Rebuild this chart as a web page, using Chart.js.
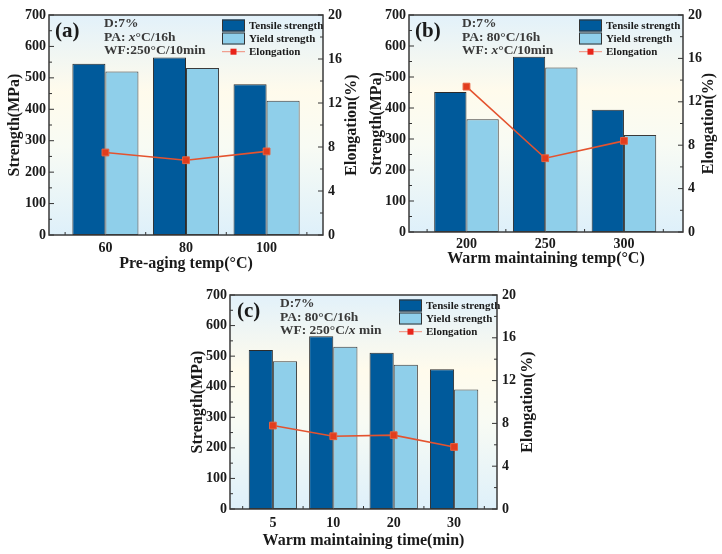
<!DOCTYPE html>
<html>
<head>
<meta charset="utf-8">
<script src="https://cdn.jsdelivr.net/npm/chart.js@4.4.1/dist/chart.umd.min.js"></script>
<style>
  html, body { margin: 0; padding: 0; background: #fff; }
  #wrap { position: relative; width: 722px; height: 554px; }
  canvas { position: absolute; }
</style>
</head>
<body>
<div id="wrap">
  <canvas id="chartA" width="370" height="277" style="left:0;top:0"></canvas>
  <canvas id="chartB" width="360" height="272" style="left:362px;top:0"></canvas>
  <canvas id="chartC" width="359" height="274" style="left:183px;top:280px"></canvas>
</div>
<script>
// (a) pre-aging temperature
const preAgingTemp = ['60', '80', '100'];
const tensileA = [545, 565, 480];
const yieldA = [520, 531, 427];
const elongA = [7.5, 6.8, 7.6];

// (b) warm maintaining temperature
const warmTemp = ['200', '250', '300'];
const tensileB = [452, 565, 394];
const yieldB = [364, 531, 313];
const elongB = [13.4, 6.8, 8.4];

// (c) warm maintaining time
const warmTime = ['5', '10', '20', '30'];
const tensileC = [520, 565, 511, 457];
const yieldC = [483, 531, 472, 391];
const elongC = [7.8, 6.8, 6.9, 5.8];

// axis ticks
const strengthTicks = [0, 100, 200, 300, 400, 500, 600, 700];
const elongTicks = [0, 4, 8, 12, 16, 20];

const TENSILE = '#005a9b';
const YIELD = '#8fcfea';
const LINE = '#e4532f';
const SERIF = '"Liberation Serif", "Times New Roman", serif';
const INK = '#1a1a1a';

function line(ctx, x1, y1, x2, y2) {
  ctx.beginPath();
  ctx.moveTo(x1, y1);
  ctx.lineTo(x2, y2);
  ctx.stroke();
}

// draws text pieces, some in italic
function drawRich(ctx, x, y, parts) {
  parts.forEach(p => {
    ctx.font = (p.i ? 'italic ' : '') + 'bold 13.5px ' + SERIF;
    ctx.fillText(p.t, x, y);
    x += ctx.measureText(p.t).width;
  });
}

function makeChart(id, cfg) {
  const cats = cfg.cats;
  const xy = arr => arr.map((v, i) => ({ x: i + 1, y: v }));

  const deco = {
    id: 'deco',
    beforeDraw(chart) {
      const { ctx, chartArea: a } = chart;
      const g = ctx.createLinearGradient(0, a.top, 0, a.bottom);
      g.addColorStop(0, '#e2f1fa');
      g.addColorStop(0.35, '#fffbec');
      g.addColorStop(0.6, '#f8fbf4');
      g.addColorStop(1, '#def0fa');
      ctx.save();
      ctx.fillStyle = g;
      ctx.fillRect(a.left, a.top, a.right - a.left, a.bottom - a.top);
      ctx.restore();
    },
    beforeDatasetsDraw(chart) {
      // inward ticks, Origin style
      const { ctx, chartArea: a, scales } = chart;
      ctx.save();
      ctx.strokeStyle = '#333';
      ctx.lineWidth = 1;
      strengthTicks.forEach((v, i) => {
        let py = scales.y.getPixelForValue(v);
        line(ctx, a.left, py, a.left + 5, py);
        if (i < strengthTicks.length - 1) {
          py = scales.y.getPixelForValue((v + strengthTicks[i + 1]) / 2);
          line(ctx, a.left, py, a.left + 3, py);
        }
      });
      elongTicks.forEach((v, i) => {
        let py = scales.y1.getPixelForValue(v);
        line(ctx, a.right - 5, py, a.right, py);
        if (i < elongTicks.length - 1) {
          py = scales.y1.getPixelForValue((v + elongTicks[i + 1]) / 2);
          line(ctx, a.right - 3, py, a.right, py);
        }
      });
      for (let i = 0; i <= cats.length; i++) {
        const px = scales.x.getPixelForValue(i + 0.5);
        line(ctx, px, a.bottom, px, a.bottom - 3);
      }
      ctx.restore();
    },
    afterDatasetsDraw(chart) {
      const { ctx, chartArea: a } = chart;
      ctx.save();
      // frame
      ctx.strokeStyle = '#3a3a3a';
      ctx.lineWidth = 1.5;
      ctx.strokeRect(a.left, a.top, a.right - a.left, a.bottom - a.top);

      // right axis title, reading bottom to top like the left one
      ctx.save();
      ctx.translate(a.right + cfg.y1TitleX, (a.top + a.bottom) / 2);
      ctx.rotate(-Math.PI / 2);
      ctx.font = 'bold 16px ' + SERIF;
      ctx.fillStyle = INK;
      ctx.textAlign = 'center';
      ctx.textBaseline = 'middle';
      ctx.fillText('Elongation(%)', 0, 0);
      ctx.restore();

      // panel label and notes
      ctx.fillStyle = INK;
      ctx.textBaseline = 'middle';
      ctx.font = 'bold 21px ' + SERIF;
      ctx.fillText(cfg.panel, a.left + cfg.labelX, a.top + 16.5);
      ctx.fillStyle = '#3a3a3a';
      const rows = [9, 22.5, 36];
      cfg.notes.forEach((parts, i) => drawRich(ctx, a.left + cfg.noteX, a.top + rows[i], parts));

      // legend
      const lx = a.right - cfg.legendOff;
      const bw = 23, bh = 12;
      ctx.lineWidth = 1;
      ctx.strokeStyle = '#333';
      [[TENSILE, 'Tensile strength', 10.5], [YIELD, 'Yield strength', 23.5]].forEach(([c, t, dy]) => {
        ctx.fillStyle = c;
        ctx.fillRect(lx, a.top + dy - bh / 2, bw, bh);
        ctx.strokeRect(lx + 0.5, a.top + dy - bh / 2 + 0.5, bw - 1, bh - 1);
        ctx.fillStyle = INK;
        ctx.font = 'bold 11px ' + SERIF;
        ctx.fillText(t, lx + bw + 4, a.top + dy + 0.5);
      });
      const ey = a.top + 36.7;
      ctx.strokeStyle = '#f08a78';
      line(ctx, lx, ey, lx + bw, ey);
      ctx.fillStyle = '#e8251b';
      ctx.fillRect(lx + bw / 2 - 3, ey - 3, 6, 6);
      ctx.fillStyle = INK;
      ctx.fillText('Elongation', lx + bw + 4, ey + 0.5);
      ctx.restore();
    }
  };

  const tickFont = { family: SERIF, size: 14, weight: 'bold' };
  const titleFont = { family: SERIF, size: 16, weight: 'bold' };
  const noGrid = { display: false, drawTicks: false, tickLength: 0 };

  return new Chart(document.getElementById(id), {
    type: 'bar',
    data: {
      datasets: [
        {
          type: 'line', label: 'Elongation', data: xy(cfg.elong), yAxisID: 'y1', order: 0,
          borderColor: LINE, borderWidth: 1.6, tension: 0,
          pointStyle: 'rect', pointRadius: 4.8,
          pointBackgroundColor: '#e23d1e', pointBorderColor: '#e8603e', pointBorderWidth: 1
        },
        {
          label: 'Tensile strength', data: xy(cfg.tensile), yAxisID: 'y', order: 1,
          backgroundColor: TENSILE, borderColor: '#2b2b2b', borderWidth: 1, borderSkipped: false
        },
        {
          label: 'Yield strength', data: xy(cfg.yieldS), yAxisID: 'y', order: 2,
          backgroundColor: YIELD, borderColor: '#3a3a3a', borderWidth: 1, borderSkipped: false
        }
      ]
    },
    options: {
      responsive: false,
      animation: false,
      devicePixelRatio: 1,
      layout: { padding: { top: 15, left: 0, right: 0, bottom: 0 } },
      categoryPercentage: cfg.catPct,
      barPercentage: 1,
      plugins: { legend: { display: false }, tooltip: { enabled: false } },
      scales: {
        x: {
          type: 'linear', min: cfg.xmin, max: cfg.xmax, offset: false,
          grid: noGrid, border: { display: false },
          afterBuildTicks: s => { s.ticks = cats.map((c, i) => ({ value: i + 1 })); },
          ticks: { callback: v => cats[Math.round(v) - 1], font: tickFont, color: INK, padding: cfg.xPad, maxRotation: 0, autoSkip: false },
          title: { display: true, text: cfg.xTitle, font: titleFont, color: INK, padding: { top: 0, bottom: 4 } },
          afterFit: s => { s.height = cfg.bottomH; }
        },
        y: {
          position: 'left', min: 0, max: 700,
          grid: noGrid, border: { display: false },
          afterBuildTicks: s => { s.ticks = strengthTicks.map(v => ({ value: v })); },
          ticks: { font: tickFont, color: INK, padding: 3 },
          title: { display: true, text: 'Strength(MPa)', font: titleFont, color: INK, padding: { top: 5, bottom: 0 } },
          afterFit: s => { s.width = cfg.leftW; }
        },
        y1: {
          position: 'right', min: 0, max: 20,
          grid: noGrid, border: { display: false },
          afterBuildTicks: s => { s.ticks = elongTicks.map(v => ({ value: v })); },
          ticks: { font: tickFont, color: INK, padding: 5 },
          title: { display: false },
          afterFit: s => { s.width = cfg.rightW; }
        }
      }
    },
    plugins: [deco]
  });
}

makeChart('chartA', {
  cats: preAgingTemp, tensile: tensileA, yieldS: yieldA, elong: elongA,
  xmin: 0.3, xmax: 3.7, catPct: 0.82, xPad: 5,
  leftW: 49, rightW: 47, bottomH: 42, y1TitleX: 29,
  xTitle: 'Pre-aging temp(°C)', panel: '(a)', labelX: 6, noteX: 55, legendOff: 101,
  notes: [
    [{ t: 'D:7%' }],
    [{ t: 'PA: ' }, { t: 'x', i: true }, { t: '°C/16h' }],
    [{ t: 'WF:250°C/10min' }]
  ]
});

makeChart('chartB', {
  cats: warmTemp, tensile: tensileB, yieldS: yieldB, elong: elongB,
  xmin: 0.27, xmax: 3.75, catPct: 0.82, xPad: 4,
  leftW: 47, rightW: 39, bottomH: 40, y1TitleX: 26,
  xTitle: 'Warm maintaining temp(°C)', panel: '(b)', labelX: 6, noteX: 53, legendOff: 104,
  notes: [
    [{ t: 'D:7%' }],
    [{ t: 'PA: 80°C/16h' }],
    [{ t: 'WF: ' }, { t: 'x', i: true }, { t: '°C/10min' }]
  ]
});

makeChart('chartC', {
  cats: warmTime, tensile: tensileC, yieldS: yieldC, elong: elongC,
  xmin: 0.29, xmax: 4.71, catPct: 0.8, xPad: 6,
  leftW: 47, rightW: 45, bottomH: 45, y1TitleX: 31,
  xTitle: 'Warm maintaining time(min)', panel: '(c)', labelX: 7, noteX: 50, legendOff: 98,
  notes: [
    [{ t: 'D:7%' }],
    [{ t: 'PA: 80°C/16h' }],
    [{ t: 'WF: 250°C/' }, { t: 'x', i: true }, { t: ' min' }]
  ]
});
</script>
</body>
</html>
